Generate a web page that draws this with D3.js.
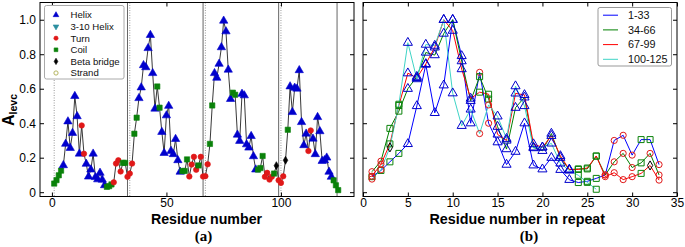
<!DOCTYPE html>
<html><head><meta charset="utf-8">
<script src="https://cdn.jsdelivr.net/npm/d3@7/dist/d3.min.js"></script>
<style>body{margin:0;background:#fff}svg{display:block}text{font-family:"Liberation Sans",Arial,sans-serif}</style>
</head><body>
<svg id="c" width="685" height="247"></svg>
<script>
// ---------- DATA ----------
// A_levc per residue (residues 1..125)
const alevc = [
 0.050,0.070,0.098,0.125,0.156,0.280,0.410,0.256,0.343,0.557,0.440,0.223,0.387,0.223,0.164,0.090,0.131,0.223,0.087,0.074,0.112,0.072,0.040,0.031,0.035,0.045,0.057,0.166,0.185,0.120,0.170,0.170,0.089,
 0.108,0.166,0.339,0.432,0.545,0.607,0.736,0.724,0.835,0.911,0.690,0.484,0.613,0.490,0.349,0.227,0.445,0.500,0.239,0.220,0.308,0.185,0.118,0.123,0.123,0.190,0.091,0.160,0.205,0.130,0.155,0.205,0.091,
 0.093,0.162,0.280,0.503,0.690,0.663,0.744,0.840,0.994,0.932,0.710,0.540,0.577,0.565,0.333,0.297,0.570,0.561,0.277,0.258,0.325,0.208,0.131,0.131,0.140,0.210,0.089,0.112,0.073,0.090,0.108,0.154,0.069,
 0.054,0.092,0.185,0.362,0.613,0.464,0.605,0.600,0.707,0.406,0.272,0.339,0.239,0.358,0.310,0.220,0.435,0.353,0.181,0.185,0.200,0.118,0.089,0.069,0.040,0.012
];
// secondary structure per residue: H helix, G 3-10 helix, T turn, C coil, B beta bridge, E strand
const sstype = (
 "CCCCHHHHHHHHTTHHHHHHHHHCCCTTTTCCT" +
 "TTCCHHHHHHHHCCHHHHHHHHHCCCTTTTCTT" +
 "TTCCHHHHHHHHCCHHHHHHHHHCCCTTTTCBT" +
 "TTBCHHHHHHHHTTHHHHHHHHHCCC").split("");
const repeatStarts = [1, 34, 67, 100];
const repeatLabels = ["1-33", "34-66", "67-99", "100-125"];
// normalised A_levc by position in repeat
const rep1 = [0.09,0.126,0.176,0.225,0.28,0.50,0.74,0.46,0.62,1.0,0.79,0.40,0.695,0.40,0.29,0.16,0.235,0.40,0.156,0.133,0.20,0.13,0.072,0.056,0.063,0.08,0.10,0.30,0.33,0.215,0.305,0.305,0.16];
const rep2 = [0.119,0.18,0.37,0.47,0.60,0.67,0.81,0.795,0.92,1.0,0.76,0.53,0.67,0.54,0.38,0.25,0.49,0.55,0.26,0.24,0.34,0.20,0.13,0.135,0.135,0.209,0.10,0.176,0.225,0.143,0.17,0.225,0.10];
const rep3 = [0.093,0.162,0.28,0.503,0.69,0.663,0.744,0.84,1.0,0.937,0.714,0.543,0.58,0.568,0.335,0.30,0.573,0.564,0.279,0.26,0.327,0.21,0.132,0.132,0.14,0.21,0.09,0.113,0.073,0.09,0.109,0.155,0.07];
const rep4 = [0.076,0.13,0.26,0.51,0.867,0.656,0.856,0.85,1.0,0.574,0.385,0.48,0.34,0.506,0.44,0.31,0.615,0.50,0.256,0.26,0.283,0.167,0.126,0.098,0.057,0.017];
const repSeries = [rep1, rep2, rep3, rep4];
const repColors = ["#0000ff", "#008000", "#ff0000", "#3fd4c6"];
const legendTypes = [["H","Helix"],["G","3-10 Helix"],["T","Turn"],["C","Coil"],["B","Beta bridge"],["E","Strand"]];
const solidLines = [33, 66, 99, 124.5];
const dottedLines = [1, 34, 67, 100];
const yTicks = [0, 0.2, 0.4, 0.6, 0.8, 1.0];
const xTicksA = [0, 50, 100];
const xTicksB = [0, 5, 10, 15, 20, 25, 30, 35];

// ---------- STYLE ----------
const typeStyle = {
  H: {sym: d3.symbolTriangle, rot: 0, col: "#0000cc"},
  G: {sym: d3.symbolTriangle, rot: 180, col: "#2b8f9f"},
  T: {sym: d3.symbolCircle, rot: 0, col: "#e01818"},
  C: {sym: d3.symbolSquare, rot: 0, col: "#0a820a"},
  B: {sym: d3.symbolDiamond, rot: 0, col: "#000000"},
  E: {sym: d3.symbolCircle, rot: 0, col: "#b5b560"}
};
const sizeA = {H: 30, G: 24, T: 24, C: 28, B: 18, E: 14};
const sizeB = {H: 36, G: 28, T: 30, C: 36, B: 24, E: 24};

const svg = d3.select("#c");
const yTop = 2.5, yBot = 196.5;
const y = d3.scaleLinear().domain([-0.025, 1.1]).range([yBot, yTop]);
const xA = d3.scaleLinear().domain([-5.2, 131.9]).range([40, 354]);
const xB = d3.scaleLinear().domain([0, 35]).range([363, 677]);

function frame(x0, x1) {
  svg.append("rect").attr("x", x0).attr("y", yTop).attr("width", x1 - x0).attr("height", yBot - yTop)
    .attr("fill", "none").attr("stroke", "#000").attr("stroke-width", 1);
}
function axes(xs, xt, showY) {
  const [x0, x1] = xs.range();
  const fmt = d => d === 0 ? "0" : d3.format(".1f")(d);
  const gb = svg.append("g").attr("transform", `translate(0,${yBot})`)
    .call(d3.axisBottom(xs).tickValues(xt).tickSizeInner(-4).tickSizeOuter(0).tickPadding(2).tickFormat(d3.format("d")));
  const gt = svg.append("g").attr("transform", `translate(0,${yTop})`)
    .call(d3.axisTop(xs).tickValues(xt).tickSizeInner(-4).tickSizeOuter(0).tickFormat(""));
  const gl = svg.append("g").attr("transform", `translate(${x0},0)`)
    .call(d3.axisLeft(y).tickValues(yTicks).tickSizeInner(-4).tickSizeOuter(0).tickPadding(4).tickFormat(showY ? fmt : ""));
  const gr = svg.append("g").attr("transform", `translate(${x1},0)`)
    .call(d3.axisRight(y).tickValues(yTicks).tickSizeInner(-4).tickSizeOuter(0).tickFormat(""));
  [gb, gt, gl, gr].forEach(g => {
    g.select(".domain").remove();
    g.selectAll("line").attr("stroke", "#000");
    g.selectAll("text").attr("font-size", 12).attr("fill", "#000").style("font-family", '"Liberation Sans",Arial,sans-serif');
  });
}
function marker(g, t, cx, cy, size, hollow) {
  const st = typeStyle[t];
  g.append("path").attr("d", d3.symbol().type(st.sym).size(size)())
    .attr("transform", `translate(${cx},${cy}) rotate(${st.rot})`)
    .attr("fill", hollow ? "none" : st.col)
    .attr("stroke", st.col).attr("stroke-width", hollow ? 1 : 0.6);
}

// ---------- PANEL A ----------
const pa = svg.append("g");
dottedLines.forEach(v => pa.append("line").attr("x1", xA(v)).attr("x2", xA(v)).attr("y1", yTop).attr("y2", yBot)
  .attr("stroke", "#999").attr("stroke-width", 1).attr("stroke-dasharray", "1,1.5"));
solidLines.forEach(v => pa.append("line").attr("x1", xA(v)).attr("x2", xA(v)).attr("y1", yTop).attr("y2", yBot)
  .attr("stroke", "#666").attr("stroke-width", 1));
const lineA = d3.line().x((d, i) => xA(i + 1)).y(d => y(d));
pa.append("path").datum(alevc).attr("d", lineA).attr("fill", "none").attr("stroke", "#222").attr("stroke-width", 0.9);
alevc.forEach((v, i) => marker(pa, sstype[i], xA(i + 1), y(v), sizeA[sstype[i]], false));
frame(40, 354);
axes(xA, xTicksA, true);

// legend A
const la = svg.append("g");
la.append("rect").attr("x", 44.5).attr("y", 5.5).attr("width", 79.5).attr("height", 73.5).attr("rx", 2)
  .attr("fill", "#fff").attr("stroke", "#aaa").attr("stroke-width", 1);
legendTypes.forEach(([t, name], i) => {
  const cy = 15 + i * 11.6;
  marker(la, t, 56, cy, t === "B" ? 12 : 14, t === "E");
  la.append("text").attr("x", 70.5).attr("y", cy + 3.4).attr("font-size", 9.6).attr("fill", "#111").text(name);
});

// labels A
svg.append("text").attr("transform", "translate(14,110) rotate(-90)").attr("text-anchor", "middle")
  .attr("font-size", 16).attr("font-weight", "bold").attr("fill", "#000")
  .call(t => { t.append("tspan").text("A"); t.append("tspan").attr("font-size", 10.5).attr("dy", 3).text("levc"); });
svg.append("text").attr("x", 206.5).attr("y", 223.5).attr("text-anchor", "middle").attr("font-size", 14.2)
  .attr("font-weight", "bold").text("Residue number");
svg.append("text").attr("x", 203.5).attr("y", 241).attr("text-anchor", "middle").attr("font-size", 15)
  .attr("font-weight", "bold").style("font-family", '"Liberation Serif","Times New Roman",serif').text("(a)");

// ---------- PANEL B ----------
const pb = svg.append("g");
repSeries.forEach((vals, k) => {
  const line = d3.line().x((d, i) => xB(i + 1)).y(d => y(d));
  pb.append("path").datum(vals).attr("d", line).attr("fill", "none").attr("stroke", repColors[k]).attr("stroke-width", 1);
});
repSeries.forEach((vals, k) => {
  vals.forEach((v, i) => {
    const t = sstype[repeatStarts[k] - 1 + i];
    marker(pb, t, xB(i + 1), y(v), sizeB[t], true);
  });
});
frame(363, 677);
axes(xB, xTicksB, false);

// legend B
const lb = svg.append("g");
lb.append("rect").attr("x", 598).attr("y", 7.5).attr("width", 73.5).attr("height", 58.5).attr("rx", 2)
  .attr("fill", "#fff").attr("stroke", "#999").attr("stroke-width", 1);
repeatLabels.forEach((name, k) => {
  const cy = 15.2 + k * 14.7;
  lb.append("line").attr("x1", 603).attr("x2", 618).attr("y1", cy).attr("y2", cy).attr("stroke", repColors[k]).attr("stroke-width", 1);
  lb.append("text").attr("x", 628).attr("y", cy + 3.8).attr("font-size", 10.8).attr("fill", "#111").text(name);
});
svg.append("text").attr("x", 517.3).attr("y", 224).attr("text-anchor", "middle").attr("font-size", 14.3)
  .attr("font-weight", "bold").text("Residue number in repeat");
svg.append("text").attr("x", 529).attr("y", 241).attr("text-anchor", "middle").attr("font-size", 15)
  .attr("font-weight", "bold").style("font-family", '"Liberation Serif","Times New Roman",serif').text("(b)");
</script>
</body></html>
